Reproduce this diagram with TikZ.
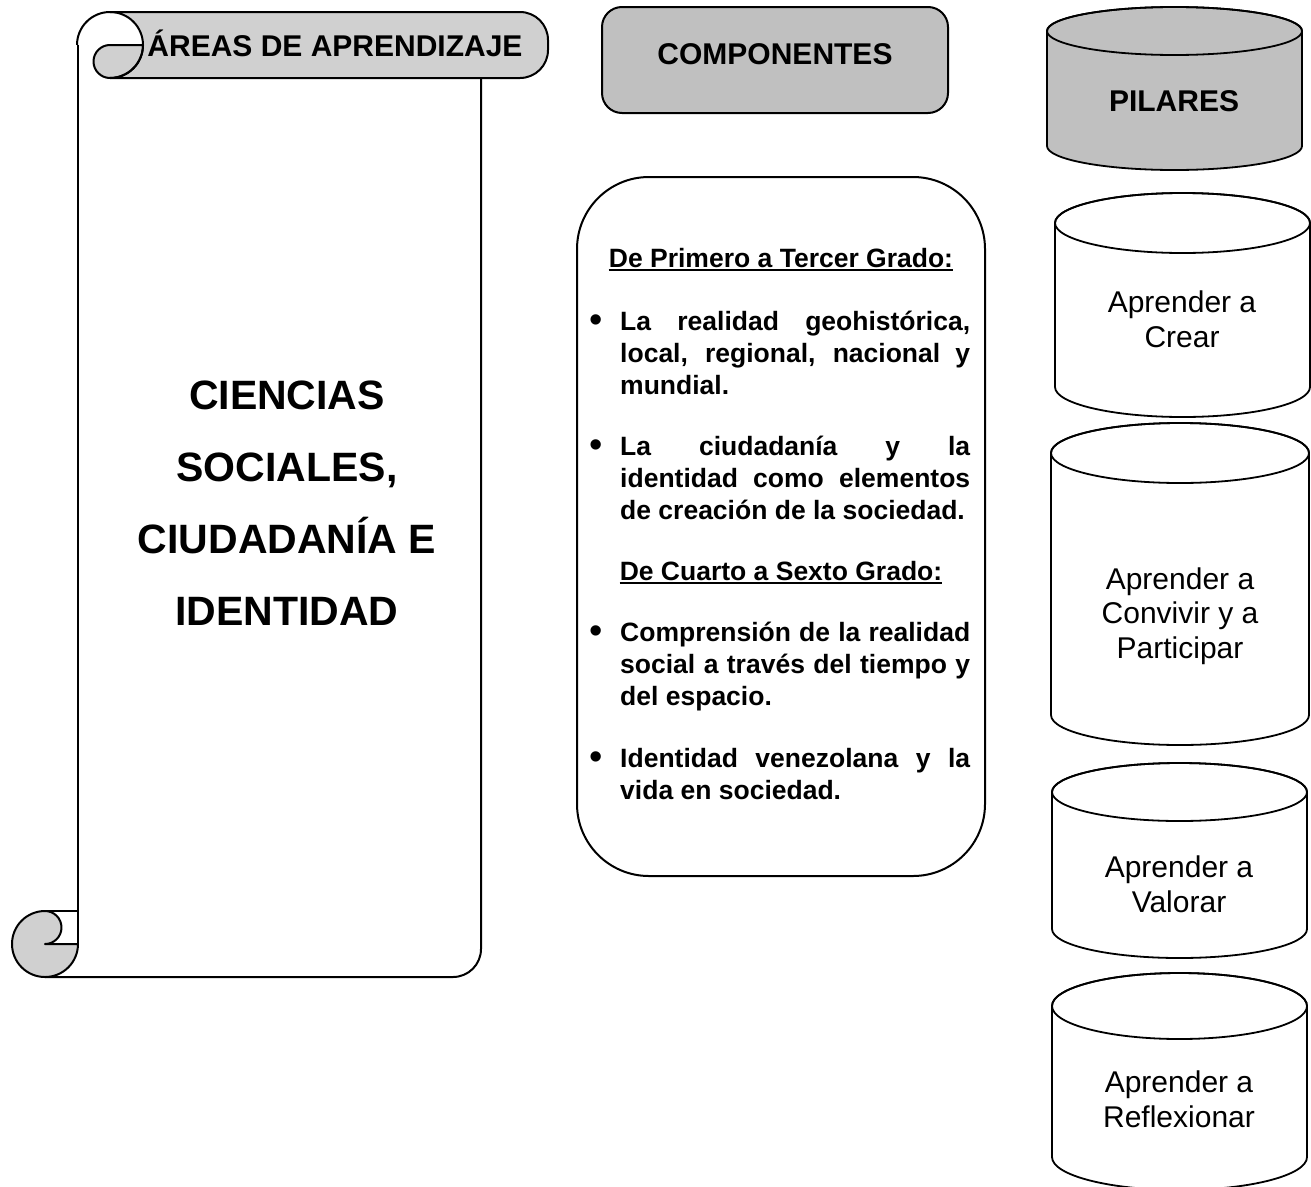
\documentclass[tikz,border=0pt]{standalone}
\usepackage{fontspec}
\setmainfont{Liberation Sans}
\definecolor{grisrollo}{HTML}{D0D0D0}
\definecolor{grisclaro}{HTML}{C0C0C0}
\hyphenpenalty=10000
\exhyphenpenalty=10000

% cilindro: izq, der, arriba, abajo, radio y, relleno
\newcommand{\cilindro}[6]{%
  \path[draw, line width=1.8pt, fill=#6]
    (#1,#3+#5) -- (#1,#4-#5)
    arc[start angle=180, end angle=0, x radius={(#2-#1)/2}, y radius=#5]
    -- (#2,#3+#5)
    arc[start angle=0, end angle=-180, x radius={(#2-#1)/2}, y radius=#5]
    -- cycle;
  \draw[line width=1.8pt] ({(#1+#2)/2},#3+#5) ellipse[x radius={(#2-#1)/2}, y radius=#5];
}

\begin{document}
\begin{tikzpicture}[x=1pt,y=-1pt,
    rollo/.style={line width=2pt, line join=round},
    titulo/.style={font=\fontsize{30}{34}\selectfont\bfseries, inner sep=0},
    grande/.style={font=\fontsize{41}{72}\selectfont\bfseries, align=center, inner sep=0},
    encabezado/.style={font=\fontsize{26.5}{32}\selectfont\bfseries, inner sep=0},
    parrafo/.style={font=\fontsize{26.5}{32}\selectfont\bfseries, text width=350, align=justify, inner sep=0},
    vineta/.style={font=\fontsize{38}{32}\selectfont, inner sep=0},
    subrayado/.style={line width=1.6pt},
    pilartxt/.style={font=\fontsize{30}{34.5}\selectfont, align=center, inner sep=0}]
  \useasboundingbox (0,0) rectangle (1311,1186);
  \fill[white] (0,0) rectangle (1311,1186);

  % rollo de las areas
  \fill[grisrollo] (110,12) [rounded corners=28] -- (548,12) -- (548,78) [sharp corners] -- (110,78) -- cycle;
  \fill[white] (110,45) circle[radius=33];
  \filldraw[rollo, fill=grisrollo] (110,45) arc[start angle=-90, end angle=-270, radius=16.5]
    arc[start angle=-270, end angle=-360, radius=33] -- cycle;
  \draw[rollo] (77,45) arc[start angle=180, end angle=450, radius=33];
  \draw[rollo] (110,12) [rounded corners=28] -- (548,12) -- (548,78) -- (110,78);
  \draw[rollo] (78,45) -- (78,944);
  \draw[rollo, rounded corners=28] (481,78) -- (481,977) -- (45,977);
  \filldraw[rollo, fill=grisrollo] (45,944) arc[start angle=90, end angle=-90, radius=16.5]
    arc[start angle=-90, end angle=-360, radius=33] -- cycle;
  \draw[rollo] (45,911) -- (78,911);

  \node[titulo, anchor=base] (areas) at (335,56) {ÁREAS DE APRENDIZAJE};
  \node[grande, anchor=base] (ciencias) at (287,625) {CIENCIAS\\SOCIALES,\\CIUDADANÍA E\\IDENTIDAD};

  % componentes
  \node[draw, line width=2pt, fill=grisclaro, rounded corners=20, minimum width=346, minimum height=106,
        titulo, text height=21.5, text depth=12] (comp) at (775,60) {COMPONENTES};
  \node[draw, line width=2pt, rounded corners=72, minimum width=408, minimum height=699] (caja) at (781,526.5) {};

  \node[encabezado, anchor=base] (h1) at (781,267) {De Primero a Tercer Grado:};
  \draw[subrayado] ([yshift=-3pt]h1.base west) -- ([yshift=-3pt]h1.base east);
  \node[vineta, anchor=base] (v1) at (596,332) {\textbullet};
  \node[parrafo, anchor=base west] (p1) at (620,330) {La realidad geohistórica, local, regional, nacional y mundial.};
  \node[vineta, anchor=base] (v2) at (596,457) {\textbullet};
  \node[parrafo, anchor=base west] (p2) at (620,455) {La ciudadanía y la\linebreak identidad como elementos de creación de la sociedad.};
  \node[encabezado, anchor=base] (h2) at (781,580) {De Cuarto a Sexto Grado:};
  \draw[subrayado] ([yshift=-3pt]h2.base west) -- ([yshift=-3pt]h2.base east);
  \node[vineta, anchor=base] (v3) at (596,643) {\textbullet};
  \node[parrafo, anchor=base west] (p3) at (620,641) {Comprensión de la realidad social a través del tiempo y del espacio.};
  \node[vineta, anchor=base] (v4) at (596,769) {\textbullet};
  \node[parrafo, anchor=base west] (p4) at (620,767) {Identidad venezolana y la vida en sociedad.};

  % pilares
  \cilindro{1047}{1302}{7}{170}{24}{grisclaro}
  \cilindro{1055}{1310}{193}{417}{30}{white}
  \cilindro{1051}{1309}{423}{745}{30}{white}
  \cilindro{1052}{1307}{763}{958}{29}{white}
  \cilindro{1052}{1307}{973}{1190}{33}{white}

  \node[titulo, anchor=base] (pilares) at (1174,111) {PILARES};
  \node[pilartxt, anchor=base] (crear) at (1182,347) {Aprender a\\Crear};
  \node[pilartxt, anchor=base] (convivir) at (1180,658) {Aprender a\\Convivir y a\\Participar};
  \node[pilartxt, anchor=base] (valorar) at (1179,912) {Aprender a\\Valorar};
  \node[pilartxt, anchor=base] (reflexionar) at (1179,1127) {Aprender a\\Reflexionar};
\end{tikzpicture}
\end{document}
